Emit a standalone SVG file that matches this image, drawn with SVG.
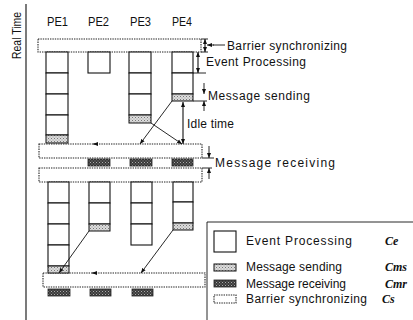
<svg xmlns="http://www.w3.org/2000/svg" width="413" height="320" viewBox="0 0 413 320">
  <style>
    .t { font-family: "Liberation Sans", Arial, sans-serif; font-size: 12px; fill: #111; }
    .sym { font-family: "Liberation Serif", "Times New Roman", serif; font-size: 12px; font-style: italic; font-weight: bold; fill: #111; }
    .cell { fill: #fff; stroke: #111; stroke-width: 1.1; }
    .send { fill: url(#lightDots); stroke: #111; stroke-width: 1; }
    .recv { fill: url(#darkDots); stroke: #222; stroke-width: 0.8; }
    .bar { fill: #fff; stroke: #222; stroke-width: 1.1; stroke-dasharray: 1.4 1; }
    .ln { fill: none; stroke: #111; stroke-width: 0.9; }
    .arr { fill: none; stroke: #111; stroke-width: 0.9; marker-end: url(#head); }
    .arr2 { fill: none; stroke: #111; stroke-width: 1.1; marker-start: url(#headS); marker-end: url(#head); }
  </style>
  <defs>
    <pattern id="lightDots" width="3" height="3" patternUnits="userSpaceOnUse">
      <rect width="3" height="3" fill="#dcdcdc"/>
      <rect x="0" y="0" width="1" height="1" fill="#777"/>
      <rect x="1.5" y="1.5" width="1" height="1" fill="#999"/>
    </pattern>
    <pattern id="darkDots" width="3" height="3" patternUnits="userSpaceOnUse">
      <rect width="3" height="3" fill="#3a3a3a"/>
      <rect x="0" y="0" width="1" height="1" fill="#aaa"/>
      <rect x="1.5" y="1.5" width="1" height="1" fill="#888"/>
    </pattern>
    <marker id="head" viewBox="0 0 10 10" refX="10" refY="5" markerWidth="5" markerHeight="5" markerUnits="userSpaceOnUse" orient="auto">
      <path d="M0,1 L10,5 L0,9 z" fill="#111"/>
    </marker>
    <marker id="headS" viewBox="0 0 10 10" refX="0" refY="5" markerWidth="5" markerHeight="5" markerUnits="userSpaceOnUse" orient="auto">
      <path d="M10,1 L0,5 L10,9 z" fill="#111"/>
    </marker>
  </defs>

  <rect width="413" height="320" fill="#fff"/>

  <!-- time axis -->
  <g id="axis">
    <line x1="26" y1="4" x2="26" y2="320" stroke="#222" stroke-width="1.2"/>
    <text class="t" transform="translate(21,59) rotate(-90)" font-size="12.5" textLength="47" lengthAdjust="spacingAndGlyphs">Real Time</text>
  </g>

  <!-- processor headings -->
  <g id="pe-labels">
    <text class="t" x="47" y="26" textLength="21" lengthAdjust="spacingAndGlyphs">PE1</text>
    <text class="t" x="88" y="26" textLength="21" lengthAdjust="spacingAndGlyphs">PE2</text>
    <text class="t" x="130" y="26" textLength="21" lengthAdjust="spacingAndGlyphs">PE3</text>
    <text class="t" x="172" y="26" textLength="20" lengthAdjust="spacingAndGlyphs">PE4</text>
  </g>

  <!-- barrier bars -->
  <g id="barriers">
    <rect class="bar" x="38" y="39" width="163" height="13"/>
    <rect class="bar" x="39" y="144" width="163" height="14"/>
    <rect class="bar" x="39" y="168" width="163" height="14"/>
    <rect class="bar" x="43" y="273" width="162" height="14"/>
  </g>

  <!-- first step -->
  <g id="pe1-step1">
    <rect class="cell" x="46" y="52" width="22" height="21"/>
    <rect class="cell" x="46" y="73" width="22" height="21"/>
    <rect class="cell" x="46" y="94" width="22" height="21"/>
    <rect class="cell" x="46" y="115" width="22" height="20"/>
    <rect class="send" x="46" y="135" width="22" height="8"/>
  </g>
  <g id="pe2-step1">
    <rect class="cell" x="88" y="52" width="22" height="21"/>
  </g>
  <g id="pe3-step1">
    <rect class="cell" x="129" y="52" width="22" height="21"/>
    <rect class="cell" x="129" y="73" width="22" height="21"/>
    <rect class="cell" x="129" y="94" width="22" height="21"/>
    <rect class="send" x="129" y="115" width="22" height="8"/>
  </g>
  <g id="pe4-step1">
    <rect class="cell" x="172" y="52" width="21" height="21"/>
    <rect class="cell" x="172" y="73" width="21" height="21"/>
    <rect class="send" x="172" y="94" width="21" height="7"/>
  </g>
  <g id="receive-step1">
    <rect class="recv" x="88" y="159" width="22" height="7"/>
    <rect class="recv" x="130" y="159" width="22" height="7"/>
    <rect class="recv" x="172" y="159" width="21" height="7"/>
  </g>

  <!-- second step -->
  <g id="pe1-step2">
    <rect class="cell" x="48" y="182" width="21" height="21"/>
    <rect class="cell" x="48" y="203" width="21" height="21"/>
    <rect class="cell" x="48" y="224" width="21" height="21"/>
    <rect class="cell" x="48" y="245" width="21" height="21"/>
    <rect class="send" x="48" y="266" width="21" height="7"/>
  </g>
  <g id="pe2-step2">
    <rect class="cell" x="89" y="182" width="21" height="21"/>
    <rect class="cell" x="89" y="203" width="21" height="21"/>
    <rect class="send" x="89" y="224" width="21" height="7"/>
  </g>
  <g id="pe3-step2">
    <rect class="cell" x="131" y="182" width="21" height="21"/>
    <rect class="cell" x="131" y="203" width="21" height="21"/>
    <rect class="cell" x="131" y="224" width="21" height="21"/>
  </g>
  <g id="pe4-step2">
    <rect class="cell" x="173" y="182" width="20" height="20"/>
    <rect class="cell" x="173" y="202" width="20" height="21"/>
    <rect class="send" x="173" y="223" width="20" height="7"/>
  </g>
  <g id="receive-step2">
    <rect class="recv" x="48" y="289" width="22" height="7"/>
    <rect class="recv" x="90" y="289" width="21" height="7"/>
    <rect class="recv" x="132" y="289" width="21" height="7"/>
  </g>

  <!-- messages and dimension marks -->
  <g id="connectors">
    <line class="arr" x1="172" y1="101" x2="140" y2="144"/>
    <line class="arr" x1="151" y1="123" x2="182" y2="144"/>
    <line class="arr" x1="98" y1="144" x2="93" y2="144"/>
    <line class="arr2" x1="183" y1="102" x2="183" y2="144"/>
    <line class="arr" x1="89" y1="231" x2="59" y2="273"/>
    <line class="arr" x1="173" y1="230" x2="141" y2="273"/>
    <line class="arr" x1="97" y1="273" x2="92" y2="273"/>

    <!-- barrier height -->
    <line class="ln" x1="201" y1="39" x2="208" y2="39"/>
    <line class="ln" x1="201" y1="52" x2="208" y2="52"/>
    <line class="arr2" x1="205" y1="39" x2="205" y2="52"/>
    <line class="ln" x1="225" y1="45" x2="213" y2="45"/>
    <line class="arr" x1="214" y1="45" x2="207" y2="45"/>

    <!-- event processing height -->
    <line class="ln" x1="193" y1="73" x2="206" y2="73"/>
    <line class="arr2" x1="198" y1="52" x2="198" y2="73"/>

    <!-- message sending height -->
    <line class="ln" x1="193" y1="101" x2="207" y2="101"/>
    <line class="arr" x1="204" y1="83" x2="204" y2="94"/>
    <line class="arr" x1="204" y1="111" x2="204" y2="101"/>

    <!-- message receiving height -->
    <line class="ln" x1="202" y1="158" x2="214" y2="158"/>
    <line class="ln" x1="202" y1="168" x2="212" y2="168"/>
    <line class="arr" x1="209" y1="146" x2="209" y2="158"/>
    <line class="arr" x1="209" y1="179" x2="209" y2="168"/>
  </g>

  <!-- annotations -->
  <g id="annotations">
    <text class="t" x="227" y="50" textLength="120" lengthAdjust="spacing">Barrier  synchronizing</text>
    <text class="t" x="206" y="66" textLength="100" lengthAdjust="spacing">Event  Processing</text>
    <text class="t" x="208" y="100" textLength="102" lengthAdjust="spacing">Message  sending</text>
    <text class="t" x="187" y="128" textLength="47" lengthAdjust="spacing">Idle time</text>
    <text class="t" x="215" y="167" textLength="120" lengthAdjust="spacing">Message  receiving</text>
  </g>

  <!-- legend -->
  <g id="legend">
    <polyline class="ln" points="207,320 207,222 413,222" stroke-width="1"/>
    <rect class="cell" x="214" y="231" width="22" height="21"/>
    <text class="t" x="246" y="245" textLength="106" lengthAdjust="spacing">Event  Processing</text>
    <text class="sym" x="385" y="245">Ce</text>
    <rect class="send" x="214" y="264" width="22" height="7"/>
    <text class="t" x="246" y="271" textLength="96" lengthAdjust="spacing">Message  sending</text>
    <text class="sym" x="385" y="271">Cms</text>
    <rect class="recv" x="214" y="280" width="22" height="7"/>
    <text class="t" x="246" y="288" textLength="100" lengthAdjust="spacing">Message  receiving</text>
    <text class="sym" x="385" y="288">Cmr</text>
    <rect class="bar" x="214" y="295" width="22" height="8"/>
    <text class="t" x="246" y="303" textLength="121" lengthAdjust="spacing">Barrier  synchronizing</text>
    <text class="sym" x="382" y="303">Cs</text>
  </g>
</svg>
